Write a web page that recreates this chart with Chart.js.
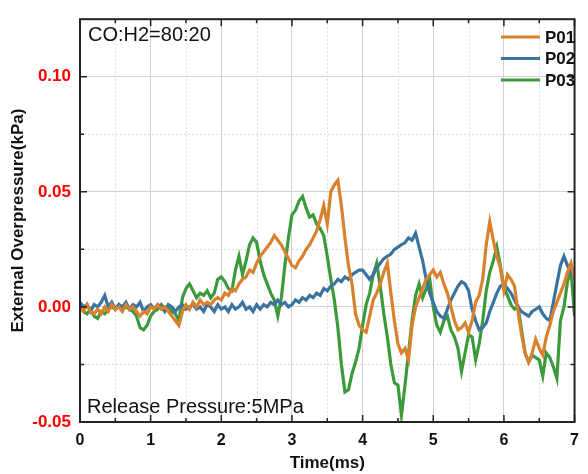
<!DOCTYPE html>
<html>
<head>
<meta charset="utf-8">
<script src="https://cdn.jsdelivr.net/npm/chart.js@4/dist/chart.umd.min.js"></script>
<style>
  html, body { margin: 0; padding: 0; background: #fff; }
  #wrap { width: 588px; height: 474px; }
</style>
</head>
<body>
<div id="wrap"><canvas id="chart" width="588" height="474"></canvas></div>
<script>
// sampling step of the pressure records (ms)
const timeStep = 0.05;

const p01 = [
  0.000, -0.002, 0.001, -0.002, -0.003, -0.001, -0.003, 0.000, -0.002, 0.001,
  -0.001, 0.000, -0.002, 0.001, -0.001, 0.000, -0.002, -0.004, -0.002, -0.003,
  0.000, -0.001, 0.001, -0.001, 0.000, -0.002, -0.004, -0.006, -0.008, -0.002,
  0.001, -0.001, 0.002, 0.000, 0.003, 0.001, 0.002, 0.001, 0.003, 0.004,
  0.003, 0.006, 0.005, 0.008, 0.007, 0.010, 0.012, 0.013, 0.016, 0.015,
  0.019, 0.022, 0.024, 0.026, 0.028, 0.031, 0.029, 0.027, 0.024, 0.021,
  0.018, 0.017, 0.020, 0.022, 0.025, 0.027, 0.030, 0.033, 0.038, 0.044,
  0.036, 0.050, 0.053, 0.055, 0.044, 0.030, 0.018, 0.010, -0.003, -0.008,
  -0.010, -0.011, -0.004, 0.003, 0.006, 0.010, 0.015, 0.019, 0.006, -0.006,
  -0.016, -0.020, -0.018, -0.023, -0.008, 0.000, 0.004, 0.008, 0.012, 0.014,
  0.016, 0.013, 0.015, 0.010, 0.006, 0.000, -0.006, -0.010, -0.009, -0.007,
  -0.011, -0.006, 0.002, 0.005, 0.012, 0.027, 0.037, 0.029, 0.022, 0.017,
  0.007, 0.014, 0.012, 0.009, -0.002, -0.012, -0.020, -0.024, -0.020, -0.014,
  -0.018, -0.021, -0.013, -0.008, -0.002, 0.002, 0.006, 0.010, 0.015, 0.019,
  0.012
];

const p02 = [
  0.002, 0.000, 0.001, -0.002, 0.001, 0.000, 0.002, 0.005, 0.000, 0.002,
  -0.001, 0.001, 0.000, 0.002, -0.001, 0.001, 0.000, 0.002, -0.002, 0.000,
  0.001, -0.001, 0.001, 0.000, -0.002, 0.001, 0.000, -0.002, 0.000, 0.001,
  -0.001, 0.000, 0.001, -0.001, 0.000, -0.002, 0.001, 0.000, -0.002, 0.001,
  -0.001, 0.000, -0.002, 0.001, -0.001, 0.000, 0.002, -0.001, 0.000, -0.002,
  0.001, -0.001, 0.001, 0.000, 0.002, 0.001, 0.003, 0.001, 0.002, 0.000,
  0.001, 0.003, 0.002, 0.004, 0.003, 0.005, 0.004, 0.006, 0.005, 0.008,
  0.007, 0.009, 0.010, 0.012, 0.011, 0.013, 0.012, 0.014, 0.015, 0.016,
  0.016, 0.014, 0.012, 0.014, 0.017, 0.019, 0.021, 0.022, 0.023, 0.025,
  0.026, 0.027, 0.028, 0.030, 0.029, 0.032, 0.026, 0.020, 0.012, 0.006,
  0.002, -0.002, -0.004, -0.005, -0.001, 0.003, 0.006, 0.009, 0.011, 0.010,
  0.007, -0.001, -0.006, -0.010, -0.009, -0.007, -0.002, 0.002, 0.006, 0.009,
  0.010, 0.008, 0.006, 0.003, 0.000, -0.002, -0.003, -0.004, -0.002, -0.001,
  0.000, -0.003, -0.005, -0.006, 0.002, 0.010, 0.018, 0.022, 0.018, 0.015,
  0.012
];

const p03 = [
  0.000, -0.002, -0.003, -0.001, -0.004, -0.005, -0.002, -0.003, -0.001, 0.000,
  -0.001, 0.001, -0.001, 0.000, -0.001, -0.002, -0.004, -0.009, -0.010, -0.008,
  -0.004, -0.002, -0.001, 0.001, -0.001, 0.000, -0.002, -0.003, -0.006, 0.004,
  0.008, 0.010, 0.007, 0.004, 0.006, 0.005, 0.007, 0.004, 0.006, 0.012,
  0.013, 0.011, 0.008, 0.007, 0.016, 0.022, 0.014, 0.020, 0.027, 0.030,
  0.028, 0.020, 0.014, 0.010, 0.006, 0.003, -0.004, 0.004, 0.018, 0.030,
  0.040, 0.042, 0.046, 0.048, 0.043, 0.039, 0.040, 0.036, 0.034, 0.031,
  0.022, 0.012, 0.003, -0.009, -0.025, -0.037, -0.036, -0.029, -0.024, -0.018,
  -0.008, 0.001, 0.006, 0.014, 0.019, 0.009, -0.003, -0.013, -0.025, -0.033,
  -0.034, -0.047, -0.034, -0.020, -0.006, 0.005, 0.010, 0.004, 0.008, 0.012,
  0.000, -0.008, -0.011, -0.006, -0.004, -0.010, -0.013, -0.018, -0.028, -0.020,
  -0.012, -0.013, -0.023, -0.016, -0.006, 0.007, 0.015, 0.020, 0.026, 0.018,
  0.008, 0.005, 0.001, -0.001, 0.000, -0.010, -0.020, -0.024, -0.021, -0.022,
  -0.023, -0.030, -0.020, -0.022, -0.026, -0.031, -0.006, 0.000, 0.011, 0.016,
  -0.004
];

const seriesNames = ["P01", "P02", "P03"];
const seriesColors = ["#d9812c", "#3a73a0", "#3c9a3c"];
const xTicks = [0, 1, 2, 3, 4, 5, 6, 7];
const yTicks = [-0.05, 0.00, 0.05, 0.10];
const xMinor = [0.5, 1.5, 2.5, 3.5, 4.5, 5.5, 6.5];
const yMinor = [-0.025, 0.025, 0.075];

const toPoints = arr => arr.map((v, i) => ({ x: +(i * timeStep).toFixed(2), y: v }));

// frame, minor grid, inward ticks, notes and legend
const decor = {
  id: "decor",
  beforeDatasetsDraw(chart) {
    const { ctx, chartArea: a, scales: { x, y } } = chart;
    ctx.save();
    ctx.strokeStyle = "#dcdcdc";
    ctx.lineWidth = 1;
    ctx.setLineDash([2, 2]);
    xMinor.forEach(v => {
      const px = Math.round(x.getPixelForValue(v)) + 0.5;
      ctx.beginPath(); ctx.moveTo(px, a.top); ctx.lineTo(px, a.bottom); ctx.stroke();
    });
    yMinor.forEach(v => {
      const py = Math.round(y.getPixelForValue(v)) + 0.5;
      ctx.beginPath(); ctx.moveTo(a.left, py); ctx.lineTo(a.right, py); ctx.stroke();
    });
    ctx.restore();
  },
  afterDatasetsDraw(chart) {
    const { ctx, chartArea: a, scales: { x, y } } = chart;
    ctx.save();
    ctx.strokeStyle = "#222";
    ctx.lineWidth = 1.5;
    const tickX = (v, len) => {
      const px = x.getPixelForValue(v);
      ctx.beginPath();
      ctx.moveTo(px, a.bottom); ctx.lineTo(px, a.bottom - len);
      ctx.moveTo(px, a.top); ctx.lineTo(px, a.top + len);
      ctx.stroke();
    };
    const tickY = (v, len) => {
      const py = y.getPixelForValue(v);
      ctx.beginPath();
      ctx.moveTo(a.left, py); ctx.lineTo(a.left + len, py);
      ctx.moveTo(a.right, py); ctx.lineTo(a.right - len, py);
      ctx.stroke();
    };
    xTicks.forEach(v => tickX(v, 7));
    xMinor.forEach(v => tickX(v, 4));
    yTicks.forEach(v => tickY(v, 7));
    yMinor.forEach(v => tickY(v, 4));
    ctx.lineWidth = 2;
    ctx.strokeRect(a.left, a.top, a.right - a.left, a.bottom - a.top);

    // notes
    ctx.fillStyle = "#111";
    ctx.font = '20px "Liberation Sans", Arial, sans-serif';
    ctx.textBaseline = "middle";
    ctx.textAlign = "left";
    ctx.fillText("CO:H2=80:20", a.left + 8, a.top + 16);
    ctx.fillText("Release Pressure:5MPa", a.left + 7, a.bottom - 15);

    // legend
    const lx = 501, ly = 37, gap = 21.5;
    chart.data.datasets.forEach((ds, i) => {
      const yy = ly + i * gap;
      ctx.strokeStyle = ds.borderColor;
      ctx.lineWidth = 3;
      ctx.beginPath(); ctx.moveTo(lx, yy); ctx.lineTo(lx + 39, yy); ctx.stroke();
      ctx.fillStyle = "#111";
      ctx.font = 'bold 17px "Liberation Sans", Arial, sans-serif';
      ctx.fillText(ds.label, lx + 44, yy + 1);
    });
    ctx.restore();
  }
};

new Chart(document.getElementById("chart"), {
  type: "line",
  data: {
    datasets: [p01, p02, p03].map((arr, i) => ({
      label: seriesNames[i],
      data: toPoints(arr),
      borderColor: seriesColors[i],
      borderWidth: 3.2,
      pointRadius: 0,
      tension: 0
    }))
  },
  options: {
    responsive: false,
    animation: false,
    layout: { padding: { top: 15, right: 5, left: 0, bottom: 0 } },
    plugins: { legend: { display: false }, tooltip: { enabled: false } },
    scales: {
      x: {
        type: "linear",
        min: 0,
        max: 7,
        afterFit: s => { s.height = 52; },
        ticks: {
          stepSize: 1,
          padding: 9,
          color: "#111",
          font: { family: '"Liberation Sans", Arial, sans-serif', size: 16, weight: "bold" },
          callback: v => String(v),
          maxRotation: 0
        },
        grid: { color: "#d2d2d2", lineWidth: 1, drawTicks: false },
        border: { display: false },
        title: {
          display: true,
          text: "Time(ms)",
          color: "#111",
          font: { family: '"Liberation Sans", Arial, sans-serif', size: 17, weight: "bold" },
          padding: { top: 0, bottom: 0 }
        }
      },
      y: {
        min: -0.05,
        max: 0.125,
        afterFit: s => { s.width = 80; },
        ticks: {
          stepSize: 0.05,
          includeBounds: false,
          padding: 9,
          color: "#ff0000",
          font: { family: '"Liberation Sans", Arial, sans-serif', size: 17, weight: "bold" },
          callback: v => v.toFixed(2)
        },
        grid: { color: "#d2d2d2", lineWidth: 1, drawTicks: false },
        border: { display: false },
        title: {
          display: true,
          text: "External Overpressure(kPa)",
          color: "#111",
          font: { family: '"Liberation Sans", Arial, sans-serif', size: 17, weight: "bold" },
          padding: { top: 8, bottom: 0 }
        }
      }
    }
  },
  plugins: [decor]
});
</script>
</body>
</html>
